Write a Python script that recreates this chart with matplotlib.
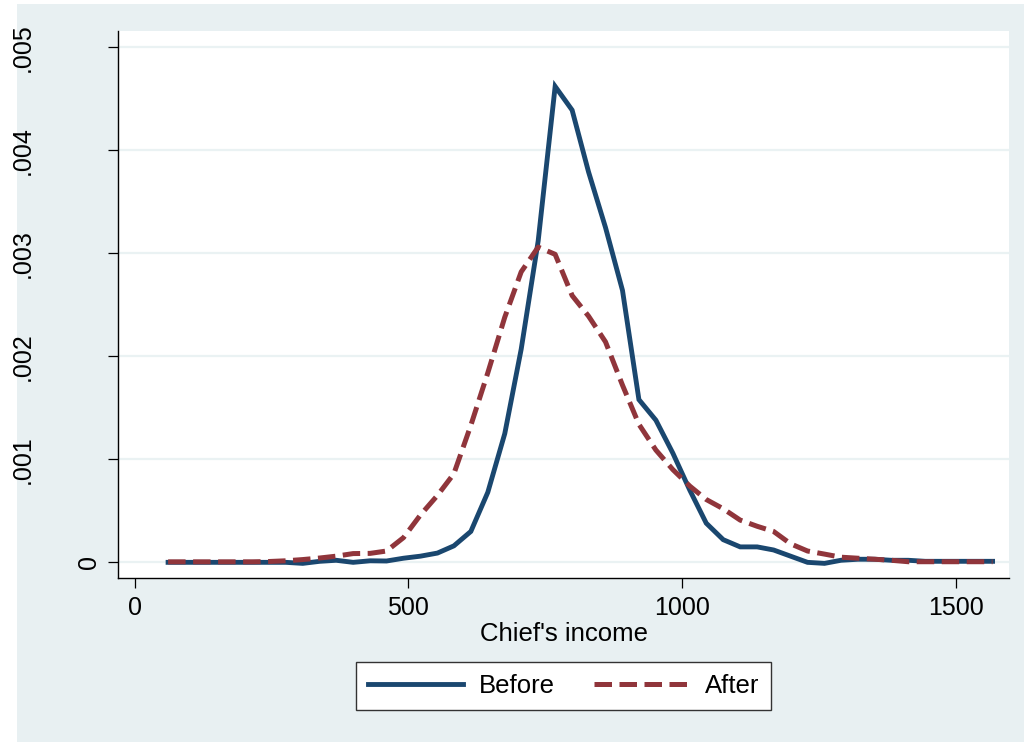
import matplotlib
matplotlib.use("Agg")
import matplotlib.pyplot as plt
import matplotlib.transforms as mtransforms
from matplotlib.patches import Rectangle

plt.rcParams['font.family'] = ['Liberation Sans', 'DejaVu Sans']

# kdensity evaluation points (Chief's income)
income = [61, 92, 122, 153, 184, 215, 245, 276, 307, 338,
          368, 399, 430, 460, 491, 522, 553, 583, 614, 645,
          676, 706, 737, 768, 799, 829, 860, 891, 921, 952,
          983, 1014, 1044, 1075, 1106, 1137, 1167, 1198, 1229, 1260,
          1290, 1321, 1352, 1382, 1413, 1444, 1475, 1505, 1536, 1567]

before = [0.0, 0.0, 0.0, 0.0, 0.0, 0.0, 0.0, 0.0, -0.00001, 0.00001,
          0.00002, 0.0, 0.000015, 0.000013, 0.00004, 0.00006, 0.00009, 0.00016, 0.00030, 0.00068,
          0.00125, 0.00207, 0.00312, 0.00462, 0.00439, 0.00379, 0.00325, 0.00264, 0.00158, 0.00138,
          0.00106, 0.00070, 0.00038, 0.00022, 0.00015, 0.00015, 0.00012, 0.00006, 0.0, -0.00001,
          0.00002, 0.00003, 0.00003, 0.00002, 0.00002, 0.00001, 0.00001, 0.00001, 0.00001, 0.00001]

after = [0.000005, 0.000005, 0.000005, 0.000005, 0.000005, 0.000005, 0.000008, 0.000015, 0.000027, 0.000042,
         0.00006, 0.000085, 0.000087, 0.00011, 0.00024, 0.00046, 0.00065, 0.00086, 0.00133, 0.00184,
         0.00238, 0.00282, 0.00306, 0.00299, 0.00259, 0.00239, 0.00214, 0.00172, 0.00134, 0.00109,
         0.00090, 0.00074, 0.00061, 0.00052, 0.00041, 0.00035, 0.00030, 0.00018, 0.00011, 0.00008,
         0.00005, 0.00004, 0.00003, 0.00002, 0.000006, 0.000006, 0.000006, 0.000006, 0.000006, 0.000006]

yticks = [0, 0.001, 0.002, 0.003, 0.004, 0.005]
ytick_labels = ['0', '.001', '.002', '.003', '.004', '.005']
xticks = [0, 500, 1000, 1500]

navy = '#1a476f'
maroon = '#90353b'
bg = '#e8f0f2'
grid = '#eaf2f3'

fig = plt.figure(figsize=(10.24, 7.42), dpi=100, facecolor='white')
# Stata graph region
fig.patches.append(Rectangle((17 / 1024, 0), 1 - 17 / 1024, 1 - 4 / 742,
                             transform=fig.transFigure, facecolor=bg,
                             edgecolor='none', zorder=-10))

ax = fig.add_axes([118 / 1024, 1 - 578 / 742, 891 / 1024, 547 / 742])
ax.set_facecolor('white')

ax.plot(income, before, color=navy, linewidth=3.5, solid_joinstyle='miter',
        label='Before', zorder=3)
ax.plot(income, after, color=maroon, linewidth=3.6, dashes=(3.5, 1.5),
        label='After', zorder=4)

ax.set_xlim(-30.5, 1597)
ax.set_ylim(-0.000152, 0.005158)

ax.set_xticks(xticks)
ax.set_xticklabels([str(t) for t in xticks], fontsize=18)
ax.set_yticks(yticks)
ax.tick_params(axis='both', direction='out', length=7.2, width=0.9, color='black')
ax.tick_params(axis='x', pad=5.5)
ax.tick_params(axis='y', labelleft=False)

ax.yaxis.grid(True, color=grid, linewidth=1.6)
ax.set_axisbelow(True)

for side in ['top', 'right']:
    ax.spines[side].set_visible(False)
for side in ['left', 'bottom']:
    ax.spines[side].set_linewidth(1.0)
    ax.spines[side].set_color('black')

# rotated y labels, placed like Stata does
trans = mtransforms.blended_transform_factory(fig.transFigure, ax.transData)
for val, lab in zip(yticks, ytick_labels):
    xpos = 89 / 1024 if lab == '0' else 23 / 1024
    ax.text(xpos, val, lab, rotation=90, fontsize=18, ha='center', va='center',
            transform=trans, clip_on=False)

ax.set_xlabel("Chief's income", fontsize=18.5, labelpad=2)

leg = fig.legend(loc='center', bbox_to_anchor=(563.5 / 1024, 1 - 686 / 742),
                 ncol=2, fontsize=18.5, frameon=True, fancybox=False,
                 handlelength=3.7, handletextpad=0.6, columnspacing=1.55,
                 borderpad=0.45, borderaxespad=0)
leg.get_frame().set_edgecolor('#333333')
leg.get_frame().set_linewidth(1.0)
leg.get_frame().set_facecolor('white')
leg.get_frame().set_alpha(1)

fig.savefig('out.png', dpi=100, facecolor='white')
